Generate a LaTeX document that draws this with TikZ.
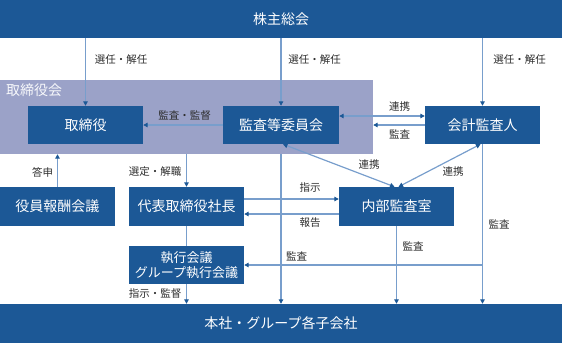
\documentclass[tikz,border=0pt]{standalone}
\usepackage{fontspec}
\newfontfamily\jp{Noto Sans CJK JP}
\usepackage{tikz}
\usetikzlibrary{arrows.meta,positioning,calc}
\definecolor{boxblue}{RGB}{28,88,150}
\definecolor{linecol}{RGB}{120,158,204}
\definecolor{boardcol}{RGB}{155,162,200}
\definecolor{lblcol}{RGB}{45,45,45}

\begin{document}
\begin{tikzpicture}[x=1pt, y=-1pt,
    box/.style={fill=boxblue, text=white, inner sep=0pt, align=center, minimum width=115pt, minimum height=38pt, font=\jp\fontsize{14}{17}\selectfont},
    bar/.style={fill=boxblue, text=white, inner sep=0pt, minimum width=562pt, font=\jp\fontsize{14}{17}\selectfont},
    board/.style={fill=boardcol, inner sep=0pt},
    lbl/.style={text=lblcol, inner sep=0pt, font=\jp\fontsize{10.5}{12}\selectfont},
    arr/.style={-{Triangle[width=4.5pt,length=4.5pt,color=boxblue]}, line width=1.2pt, linecol},
    arrs/.style={{Triangle[width=4.5pt,length=4.5pt,color=boxblue]}-{Triangle[width=4.5pt,length=4.5pt,color=boxblue]}, line width=1.2pt, linecol},
    ln/.style={line width=1.2pt, linecol}
]
\useasboundingbox (0,0) rectangle (562,343);

\node[board, minimum width=373pt, minimum height=74pt] (bod) at (186.5,117) {};
\node[anchor=west, inner sep=0pt, text=white!92!boardcol, font=\jp\fontsize{14}{17}\selectfont] (bodlbl) at (6,90) {取締役会};

\node[bar, minimum height=38pt] (gm) at (281,19) {株主総会};
\node[bar, minimum height=39pt] (grp) at (281,323.5) {本社・グループ各子会社};

\node[box] (tor) at (85.5,125) {取締役};
\node[box, minimum width=116pt] (audit) at (281,125) {監査等委員会};
\node[box] (acct) at (482.5,125) {会計監査人};
\node[box, minimum height=39pt] (comp) at (57.5,206.5) {役員報酬会議};
\node[box, minimum height=39pt] (ceo) at (186.5,206.5) {代表取締役社長};
\node[box, font=\jp\fontsize{13}{15.5}\selectfont] (exec) at (186.5,265) {執行会議\\グループ執行会議};
\node[box, minimum height=39pt] (ia) at (396.5,206.5) {内部監査室};

\draw[arr] (tor.north |- gm.south) -- (tor.north);
\draw[arr] (audit.north |- gm.south) -- (audit.north);
\draw[arr] (acct.north |- gm.south) -- (acct.north);
\draw[arr] (audit.west) -- (tor.east);
\draw[arrs] ([yshift=9pt]audit.east) -- ([yshift=9pt]acct.west);
\draw[arr] (acct.west) -- (acct.west -| bod.east);
\draw[arrs] ([xshift=2pt]audit.south) -- ([xshift=-2pt]ia.north);
\draw[arrs] ([xshift=2pt]ia.north) -- ([xshift=-2pt]acct.south);
\draw[arr] (audit.south |- bod.south) -- (audit.south |- grp.north);
\draw[arr] (ceo.north |- bod.south) -- (ceo.north);
\draw[arr] (comp.north) -- (comp.north |- bod.south);
\draw[arr] ([yshift=7.5pt]ceo.east) -- ([yshift=7.5pt]ia.west);
\draw[arr] ([yshift=-7.5pt]ia.west) -- ([yshift=-7.5pt]ceo.east);
\draw[ln] (ceo.south) -- (exec.north);
\draw[arr] (exec.south) -- (exec.south |- grp.north);
\draw[arr] (ia.south) -- (ia.south |- grp.north);
\draw[arr] (acct.south) -- (acct.south |- grp.north);
\draw[arr] (acct.south |- exec.east) -- (exec.east);

\node[lbl] (selA) at (121,60) {選任・解任};
\node[lbl] (selB) at (314.5,60) {選任・解任};
\node[lbl] (selC) at (519.5,60) {選任・解任};
\node[lbl] (supv) at (184.5,116) {監査・監督};
\node[lbl] (coopA) at (399.5,107) {連携};
\node[lbl] (audA) at (399.5,134) {監査};
\node[lbl] (coopB) at (369,165) {連携};
\node[lbl] (coopC) at (453,172) {連携};
\node[lbl] (report) at (42.5,172) {答申};
\node[lbl] (appt) at (155,172) {選定・解職};
\node[lbl] (instr) at (310,188) {指示};
\node[lbl] (rep) at (310,223) {報告};
\node[lbl] (audB) at (296.5,256) {監査};
\node[lbl] (instsup) at (155,294) {指示・監督};
\node[lbl] (audC) at (413,246) {監査};
\node[lbl] (audD) at (499,224) {監査};
\end{tikzpicture}
\end{document}
